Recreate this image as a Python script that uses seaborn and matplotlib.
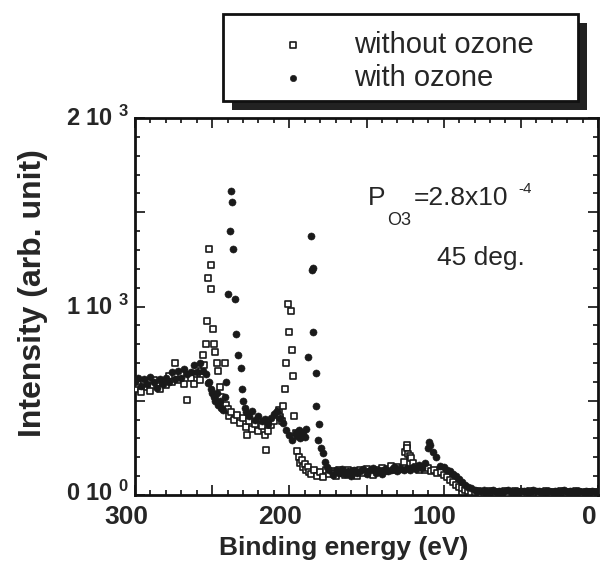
import numpy as np
import pandas as pd
import matplotlib
matplotlib.use("Agg")
import matplotlib.pyplot as plt
import matplotlib.transforms as mtransforms
from matplotlib.patches import Rectangle
import seaborn as sns

sns.set_style("ticks")
plt.rcParams['font.family'] = ['Liberation Sans', 'DejaVu Sans']
plt.rcParams['mathtext.fontset'] = 'custom'
plt.rcParams['mathtext.rm'] = 'Liberation Sans'
plt.rcParams['mathtext.bf'] = 'Liberation Sans:bold'
plt.rcParams['mathtext.it'] = 'Liberation Sans:italic'

# ---------------- data ----------------
series_labels = ["without ozone", "with ozone"]

without_E = [300, 298, 296, 294, 292, 290, 288, 286, 284, 282, 280, 278, 276, 274, 272, 270, 268, 266, 264, 262,
             260, 258, 257, 256, 255, 254, 253.5, 252.5, 252, 251, 250.5, 249.5, 248.5, 248, 247, 246, 245, 244,
             242, 241, 240, 239, 238, 236, 234, 232, 230, 228, 227.4, 226, 224, 222, 220, 218, 216, 215, 214,
             212, 210, 208, 207, 206, 205, 204, 203, 202, 201, 200.2, 199, 198.3, 197.6, 197, 196, 195, 194,
             193, 192, 191, 190, 189, 188, 187, 186, 184, 182, 180, 178, 176, 174, 172, 170, 168, 166, 164,
             162, 160, 158, 156, 154, 152, 150, 148, 146, 144, 142, 140, 138, 136, 134, 132, 130, 128, 126,
             125, 124, 123.5, 123, 122, 121, 120, 118, 116, 114, 112, 110, 108, 106, 104, 102, 100, 98, 96,
             94, 92, 90, 88, 86, 84, 82, 80, 78, 76, 74, 72, 70, 68, 66, 64, 62, 60, 58, 56, 54, 52, 50, 48,
             46, 44, 42, 40, 38, 36, 34, 32, 30, 28, 26, 24, 22, 20, 18, 16, 14, 12, 10, 8, 6, 4, 2, 0]
without_I = [560, 590, 545, 600, 575, 550, 610, 580, 560, 600, 585, 630, 600, 700, 610, 640, 590, 505, 620, 590,
             640, 610, 660, 743, 690, 801, 923, 1151, 1305, 1220, 1093, 881, 801, 760, 700, 658, 573, 520,
             700, 480, 455, 420, 440, 400, 425, 380, 410, 360, 318, 390, 350, 375, 340, 365, 320, 239, 340,
             370, 395, 430, 450, 415, 390, 470, 562, 700, 1013, 865, 976, 769, 631, 419, 330, 235, 200,
             170, 185, 150, 165, 135, 150, 120, 110, 130, 100, 120, 95, 130, 110, 125, 100, 130, 115, 105,
             135, 110, 125, 100, 130, 115, 140, 120, 105, 135, 120, 145, 125, 140, 155, 130, 150, 140, 175,
             230, 265, 250, 215, 205, 195, 170, 150, 135, 150, 130, 145, 125, 135, 115, 120, 105, 95, 80,
             70, 55, 45, 35, 28, 22, 18, 15, 20, 12, 18, 14, 20, 15, 10, 18, 14, 20, 12, 16, 21, 14, 18, 12,
             16, 20, 13, 18, 12, 17, 21, 15, 11, 18, 14, 20, 16, 12, 18, 14, 20, 15, 12, 18, 14, 16, 12, 15]

with_E = [300, 298, 296, 294, 292, 290, 288, 286, 284, 282, 280, 278, 276, 274, 272, 270, 268, 266, 264, 262,
          260, 258, 256, 254, 253, 252, 251, 250, 249, 248, 247, 246, 245, 244, 243, 242, 241, 240, 238.3,
          237.8, 237, 236.5, 235.2, 234.5, 233.3, 231.3, 230.5, 230, 229, 228, 226, 224, 222, 220, 218, 216,
          214, 212, 210, 208, 206, 204, 202, 200, 198, 196, 195, 194, 193, 192, 191, 190, 189, 188, 186,
          185.3, 184.9, 184.7, 182.7, 182.5, 181.4, 180.8, 179.5, 178.2, 176.9, 175.5, 174, 172, 170, 168,
          166, 164, 162, 160, 158, 156, 154, 152, 150, 148, 146, 144, 142, 140, 138, 136, 134, 132, 130,
          128, 126, 124, 122, 120, 118, 116, 114, 112, 110.2, 109.5, 108.9, 107, 105, 102.4, 100, 98, 96,
          94, 92, 90, 88, 86, 84, 82, 80, 78, 76, 74, 72, 70, 68, 66, 64, 62, 60, 58, 56, 54, 52, 50, 48,
          46, 44, 42, 40, 38, 36, 34, 32, 30, 28, 26, 24, 22, 20, 18, 16, 14, 12, 10, 8, 6, 4, 2, 0]
with_I = [600, 620, 580, 615, 590, 625, 600, 570, 615, 590, 620, 600, 650, 615, 660, 620, 670, 640, 655, 690,
          650, 700, 660, 640, 594, 600, 560, 540, 520, 500, 540, 480, 500, 460, 450, 520, 600, 1066, 1401,
          1613, 1554, 1305, 1040, 854, 743, 674, 560, 500, 460, 440, 420, 445, 400, 420, 390, 405,
          375, 410, 430, 445, 410, 380, 345, 320, 290, 330, 315, 345, 300, 325, 335, 310, 350, 732, 1374,
          1194, 1204, 865, 647, 472, 292, 377, 249, 223, 175, 150, 130, 105, 135, 115,
          140, 110, 125, 100, 135, 115, 125, 140, 110, 130, 145, 115, 130, 110, 140, 125, 135, 150, 125,
          140, 130, 145, 135, 150, 140, 160, 145, 170, 249, 280, 265, 230, 202, 154, 150, 135, 125,
          110, 100, 85, 70, 55, 45, 35, 28, 22, 19, 24, 17, 21, 25, 18, 22, 16, 20, 24, 18, 21, 17, 23, 19,
          22, 17, 24, 19, 21, 16, 23, 20, 18, 22, 17, 21, 24, 18, 20, 16, 22, 19, 17, 21, 18, 20, 17, 19]

x_major = [300, 250, 200, 150, 100, 50, 0]
x_labels = ["300", "", "200", "", "100", "", "0"]
y_major = [0, 500, 1000, 1500, 2000]
y_labels = [r"$\mathbf{0\ 10\ }^{\mathbf{0}}$", "", r"$\mathbf{1\ 10\ }^{\mathbf{3}}$", "",
            r"$\mathbf{2\ 10\ }^{\mathbf{3}}$"]

df_without = pd.DataFrame({"E": without_E, "I": without_I})
df_with = pd.DataFrame({"E": with_E, "I": with_I})

# ---------------- figure ----------------
W, H = 600, 563
fig = plt.figure(figsize=(W / 100, H / 100), dpi=100, facecolor="white")
ax = fig.add_axes([135 / W, 1 - 495 / H, (598 - 135) / W, (495 - 118) / H])

def px(x, y):
    return (x / W, 1 - y / H)

sns.scatterplot(data=df_without, x="E", y="I", marker="s", s=20, color="black",
                facecolor="white", edgecolor="#1a1a1a", linewidth=1.2, ax=ax,
                label=series_labels[0], legend=False, zorder=3)
sns.scatterplot(data=df_with, x="E", y="I", marker="o", s=26, color="#1a1a1a",
                edgecolor="#1a1a1a", linewidth=0.4, ax=ax,
                label=series_labels[1], legend=False, zorder=3)

ax.set_xlim(300, 0)
ax.set_ylim(0, 2000)
ax.set_xticks(x_major)
ax.set_xticklabels(x_labels)
ax.set_xticks(np.arange(0, 301, 10), minor=True)
ax.set_yticks(y_major)
ax.set_yticklabels(y_labels)
ax.set_yticks(np.arange(0, 2001, 100), minor=True)

ax.tick_params(which="both", direction="in", top=True, right=True, width=1.2, color="#111111")
ax.tick_params(which="major", length=7)
ax.tick_params(which="minor", length=3.5)
ax.tick_params(axis="x", labelsize=19, pad=7)
ax.tick_params(axis="y", labelsize=17, pad=4)
offset = mtransforms.ScaledTranslation(-9 / 100, 0, fig.dpi_scale_trans)
for lab in ax.get_xticklabels():
    lab.set_fontweight("bold")
    lab.set_transform(lab.get_transform() + offset)
ylabs = ax.get_yticklabels()
ylabs[0].set_transform(ylabs[0].get_transform() +
                       mtransforms.ScaledTranslation(0, 4 / 100, fig.dpi_scale_trans))
for lab in ylabs[1:]:
    lab.set_transform(lab.get_transform() +
                      mtransforms.ScaledTranslation(0, 2 / 100, fig.dpi_scale_trans))

for sp in ax.spines.values():
    sp.set_linewidth(2)
    sp.set_color("#111111")

ax.set_xlabel("Binding energy (eV)", fontsize=19, fontweight="bold")
ax.xaxis.set_label_coords(0.45, -0.108)
ax.set_ylabel("Intensity (arb. unit)", fontsize=23, fontweight="bold")
ax.yaxis.set_label_coords(-0.188, 0.535)

# annotation
fig.text(*px(368, 205), "P", fontsize=19, va="baseline", ha="left")
fig.text(*px(387, 225), "O3", fontsize=13, va="baseline", ha="left")
fig.text(*px(414, 205), "=2.8x10", fontsize=19, va="baseline", ha="left")
fig.text(*px(518, 193), "-4", fontsize=11, va="baseline", ha="left")
fig.text(*px(437, 265), "45 deg.", fontsize=19, va="baseline", ha="left")

# legend box with shadow
bx0, by0, bx1, by1 = 223, 14, 578, 101
fig.add_artist(Rectangle(px(bx0 + 9, by1 + 9), (bx1 - bx0) / W, (by1 - by0) / H,
                         transform=fig.transFigure, facecolor="#222222", edgecolor="none", zorder=1))
fig.add_artist(Rectangle(px(bx0, by1), (bx1 - bx0) / W, (by1 - by0) / H,
                         transform=fig.transFigure, facecolor="white", edgecolor="#111111",
                         linewidth=2, zorder=2))
handles, labels = ax.get_legend_handles_labels()
leg = fig.legend(handles, labels, loc="upper left", bbox_to_anchor=px(278, 31),
                 frameon=False, fontsize=21, handlelength=1.0, handletextpad=1.6,
                 labelspacing=0.17, borderpad=0, borderaxespad=0, markerscale=0.9)
leg.set_zorder(3)

fig.savefig("out.png", dpi=100, facecolor="white")
